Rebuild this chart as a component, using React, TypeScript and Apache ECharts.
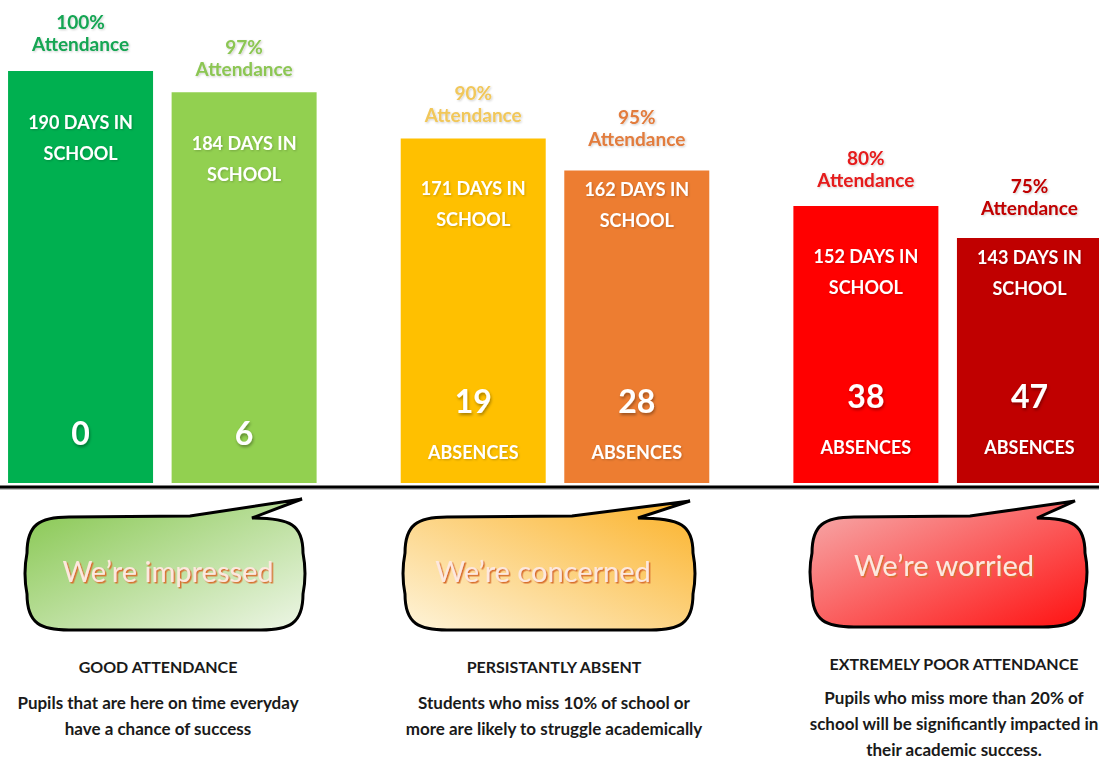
import React, { useEffect, useRef } from "react";
import * as echarts from "echarts";

// ---------- data ----------
const categories = ["GOOD ATTENDANCE", "PERSISTANTLY ABSENT", "EXTREMELY POOR ATTENDANCE"];
const daysFirst = [190, 171, 152];
const daysSecond = [184, 162, 143];
const attendanceFirst = [100, 90, 80];
const attendanceSecond = [97, 95, 75];
const absencesFirst = [0, 19, 38];
const absencesSecond = [6, 28, 47];
const showAbsenceWord = [false, true, true];
const bubbleTexts = ["We\u2019re impressed", "We\u2019re concerned", "We\u2019re worried"];
const descriptions = [
  ["Pupils that are here on time everyday", "have a chance of success"],
  ["Students who miss 10% of school or", "more are likely to struggle academically"],
  ["Pupils who miss more than 20% of", "school will be significantly impacted in", "their academic success."],
];

// ---------- styles ----------
const barColorsFirst = ["#00b050", "#ffc000", "#ff0000"];
const barColorsSecond = ["#92d050", "#ed7d31", "#c00000"];
const labelColorsFirst = ["#13a552", "#f1c75a", "#e51a1a"];
const labelColorsSecond = ["#8cc653", "#e27b3c", "#c00000"];
const topDistFirst = [17, 13, 15];
const topDistSecond = [13, 21, 19];
const daysDistFirst = [35, 34, 35];
const daysDistSecond = [35, 3, 4];
const absDistFirst = [25, 5, 10];
const absDistSecond = [25, 5, 10];
const FONT = "Lato, 'Open Sans', sans-serif";

// bubble geometry [L, T, R, B, tailStart, tipX, tipY, tailEnd]
const bubbleGeom = [
  [27, 517, 303, 630, 190, 302, 499, 252],
  [405, 517, 693, 630, 572, 690, 501, 638],
  [812, 517, 1085, 627, 970, 1075, 501, 1037],
];
const bubbleFills = [
  { x: 0, y: 0, x2: 1, y2: 1, stops: ["#84c64c", "#eef6e7"] },
  { x: 1, y: 0, x2: 0, y2: 1, stops: ["#fbb229", "#fef4da"] },
  { x: 0, y: 0, x2: 1, y2: 1, stops: ["#f6afaf", "#ff1111"] },
];
const textCenters = [
  [168, 570],
  [543, 570],
  [944, 564],
];
const descCenters = [158, 554, 954];
const titleY = [666, 666, 663];
const descStartY = [702, 702, 697];

function bubblePath(g: number[]) {
  const [L, T, R, B, ts, tx, ty, te] = g;
  const r = 42;
  const rv = 36;
  const mid = (T + B) / 2;
  return [
    `M${L + r} ${T}`,
    `L${ts} ${T - 1}`,
    `L${tx} ${ty}`,
    `L${te} ${T + 1}`,
    `C${R - 12} ${T + 1} ${R} ${T + 8} ${R} ${T + rv}`,
    `Q${R + 4} ${mid} ${R} ${B - rv}`,
    `C${R} ${B - 6} ${R - 14} ${B} ${R - r} ${B}`,
    `L${L + r} ${B}`,
    `C${L + 14} ${B} ${L} ${B - 6} ${L} ${B - rv}`,
    `Q${L - 4} ${mid} ${L} ${T + rv}`,
    `C${L} ${T + 8} ${L + 12} ${T} ${L + r} ${T}`,
    "Z",
  ].join(" ");
}

bubbleGeom.forEach((g, i) => {
  echarts.graphic.registerShape("bubble" + i, echarts.graphic.extendPath(bubblePath(g), {}) as any);
});

const BAR_W = 145;
const BAR_GAP = "12.8%";
const CAT_GAP = "21%";

function makeItems(values: number[], colors: string[] | null, dists: number[]) {
  return values.map((v, i) => ({
    value: v,
    itemStyle: { color: colors ? colors[i] : "rgba(0,0,0,0)" },
    label: { distance: dists[i] },
  }));
}

function buildOption() {
  const base = { type: "bar", barWidth: BAR_W, barGap: BAR_GAP, barCategoryGap: CAT_GAP, silent: true };
  const richTop = (c: string) => ({ color: c, fontFamily: FONT, fontWeight: "bold", fontSize: 19, lineHeight: 22 });
  const topLabel = (att: number[], colors: string[]) => ({
    show: true,
    position: "top",
    fontFamily: FONT,
    fontWeight: "bold",
    fontSize: 19,
    lineHeight: 22,
    align: "center",
    textShadowColor: "rgba(0,0,0,0.2)",
    textShadowBlur: 2,
    textShadowOffsetX: 1,
    textShadowOffsetY: 1,
    formatter: (p: any) => `{c${p.dataIndex}|${att[p.dataIndex]}%\nAttendance}`,
    rich: { c0: richTop(colors[0]), c1: richTop(colors[1]), c2: richTop(colors[2]) },
  });
  const daysLabel = (days: number[]) => ({
    show: true,
    position: "insideTop",
    color: "#ffffff",
    fontFamily: FONT,
    fontWeight: "bold",
    fontSize: 18,
    lineHeight: 31,
    align: "center",
    textShadowColor: "rgba(0,0,0,0.2)",
    textShadowBlur: 2,
    textShadowOffsetX: 1,
    textShadowOffsetY: 1,
    formatter: (p: any) => `${days[p.dataIndex]} DAYS IN\nSCHOOL`,
  });
  const absLabel = (abs: number[]) => ({
    show: true,
    position: "insideBottom",
    align: "center",
    formatter: (p: any) =>
      showAbsenceWord[p.dataIndex]
        ? `{n|${abs[p.dataIndex]}}\n{w|ABSENCES}`
        : `{n|${abs[p.dataIndex]}}`,
    rich: {
      n: {
        color: "#ffffff",
        fontFamily: FONT,
        fontWeight: "bold",
        fontSize: 32,
        lineHeight: 52,
        align: "center",
        textShadowColor: "rgba(0,0,0,0.35)",
        textShadowBlur: 3,
        textShadowOffsetX: 1,
        textShadowOffsetY: 2,
      },
      w: {
        color: "#ffffff",
        fontFamily: FONT,
        fontWeight: "bold",
        fontSize: 18,
        lineHeight: 52,
        align: "center",
        textShadowColor: "rgba(0,0,0,0.2)",
        textShadowBlur: 2,
        textShadowOffsetX: 1,
        textShadowOffsetY: 1,
      },
    },
  });

  const series: any[] = [
    { ...base, name: "first", xAxisIndex: 0, data: makeItems(daysFirst, barColorsFirst, topDistFirst), label: topLabel(attendanceFirst, labelColorsFirst) },
    { ...base, name: "second", xAxisIndex: 0, data: makeItems(daysSecond, barColorsSecond, topDistSecond), label: topLabel(attendanceSecond, labelColorsSecond) },
    { ...base, name: "firstDays", xAxisIndex: 1, data: makeItems(daysFirst, null, daysDistFirst), label: daysLabel(daysFirst) },
    { ...base, name: "secondDays", xAxisIndex: 1, data: makeItems(daysSecond, null, daysDistSecond), label: daysLabel(daysSecond) },
    { ...base, name: "firstAbs", xAxisIndex: 2, data: makeItems(daysFirst, null, absDistFirst), label: absLabel(absencesFirst) },
    { ...base, name: "secondAbs", xAxisIndex: 2, data: makeItems(daysSecond, null, absDistSecond), label: absLabel(absencesSecond) },
  ];

  const graphics: any[] = [
    {
      type: "rect",
      silent: true,
      shape: { x: 0, y: 488, width: 1099, height: 2 },
      style: { fill: "rgba(0,0,0,0.25)" },
    },
    {
      type: "rect",
      silent: true,
      shape: { x: 0, y: 485.5, width: 1099, height: 3 },
      style: { fill: "#000000" },
    },
  ];
  bubbleGeom.forEach((g, i) => {
    const f = bubbleFills[i];
    graphics.push({
      type: "bubble" + i,
      x: 0,
      y: 0,
      silent: true,
      style: {
        fill: {
          type: "linear",
          x: f.x,
          y: f.y,
          x2: f.x2,
          y2: f.y2,
          colorStops: [
            { offset: 0, color: f.stops[0] },
            { offset: 1, color: f.stops[1] },
          ],
          global: false,
        },
        stroke: "#000000",
        lineWidth: 3,
        lineJoin: "miter",
      },
    });
    graphics.push({
      type: "text",
      x: textCenters[i][0],
      y: textCenters[i][1],
      silent: true,
      style: {
        text: bubbleTexts[i],
        fill: "#fde8de",
        fontFamily: FONT,
        fontSize: 29,
        align: "center",
        verticalAlign: "middle",
        textShadowColor: "#d8702f",
        textShadowBlur: 1,
        textShadowOffsetX: 1.5,
        textShadowOffsetY: 1.5,
      },
    });
    graphics.push({
      type: "text",
      x: descCenters[i],
      y: titleY[i],
      silent: true,
      style: {
        text: categories[i],
        fill: "#1a1a1a",
        fontFamily: FONT,
        fontWeight: "bold",
        fontSize: 16,
        align: "center",
        verticalAlign: "middle",
      },
    });
    descriptions[i].forEach((line, j) => {
      graphics.push({
        type: "text",
        x: descCenters[i],
        y: descStartY[i] + j * 26,
        silent: true,
        style: {
          text: line,
          fill: "#1a1a1a",
          fontFamily: FONT,
          fontWeight: "bold",
          fontSize: 17,
          align: "center",
          verticalAlign: "middle",
        },
      });
    });
  });

  const hiddenAxis = (idx: number) => ({
    type: "category",
    data: categories,
    gridIndex: 0,
    show: false,
    id: "x" + idx,
  });

  return {
    animation: false,
    backgroundColor: "#ffffff",
    grid: { left: -34, right: -45, top: 71, bottom: 277, containLabel: false, outerBoundsMode: "none" },
    xAxis: [hiddenAxis(0), hiddenAxis(1), hiddenAxis(2)],
    yAxis: { type: "value", min: 74, max: 190, show: false, splitLine: { show: false } },
    series,
    graphic: { elements: graphics },
  };
}

export default function App() {
  const ref = useRef<HTMLDivElement>(null);
  useEffect(() => {
    if (!ref.current) return;
    const chart = echarts.init(ref.current, undefined, { renderer: "svg" });
    chart.setOption(buildOption() as any);
    return () => chart.dispose();
  }, []);
  return (
    <div
      ref={ref}
      style={{ position: "fixed", left: 0, top: 0, width: 1099, height: 760, background: "#ffffff" }}
    />
  );
}
